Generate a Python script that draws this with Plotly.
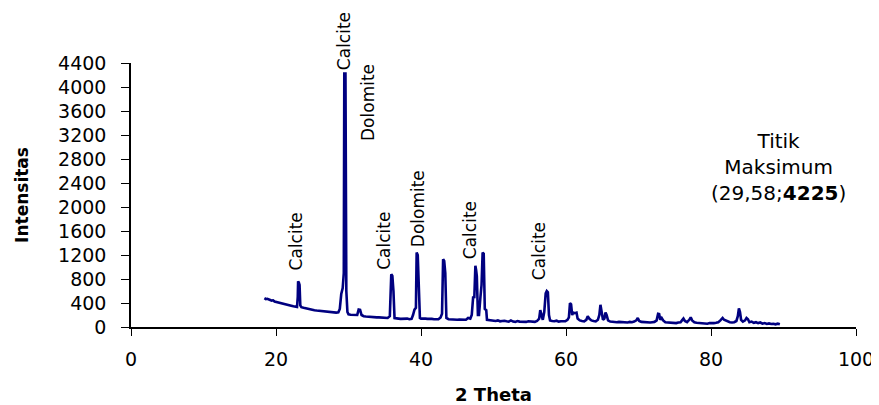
import plotly.graph_objects as go

two_theta = [
    18.4, 18.6, 18.8, 19.0, 19.2, 19.4, 19.6, 19.8, 20.0, 20.3, 20.6, 20.9, 21.2, 21.5, 21.8, 22.1, 22.4, 22.7, 22.9,
    23.0, 23.05, 23.15, 23.25, 23.35,
    23.5, 23.8, 24.1, 24.4, 24.7, 25.0, 25.3, 25.6, 25.9, 26.2, 26.5, 26.8, 27.1, 27.4, 27.7, 28.0, 28.3, 28.6,
    28.8, 29.0, 29.2, 29.35, 29.42, 29.58, 29.7, 29.85,
    30.0, 30.3, 30.6, 30.9, 31.2, 31.4, 31.6, 31.8, 32.1, 32.4, 32.7, 33.0, 33.3, 33.6, 33.9, 34.2, 34.5, 34.8,
    35.1, 35.4, 35.7, 35.9, 36.05, 36.2, 36.35,
    36.6, 36.9, 37.2, 37.5, 37.8, 38.1, 38.4, 38.7, 38.9, 39.1, 39.3, 39.4, 39.55, 39.7, 39.85,
    40.0, 40.3, 40.6, 40.9, 41.2, 41.5, 41.8, 42.1, 42.4, 42.7, 42.9, 43.05, 43.2, 43.35, 43.5,
    43.8, 44.1, 44.4, 44.7, 45.0, 45.3, 45.6, 45.9, 46.2, 46.5, 46.8, 47.0, 47.2, 47.35, 47.5, 47.6, 47.7, 47.85,
    48.0, 48.2, 48.35, 48.5, 48.65, 48.8, 49.0, 49.1,
    49.4, 49.7, 50.0, 50.3, 50.6, 50.9, 51.2, 51.5, 51.8, 52.1, 52.4, 52.7, 53.0, 53.3, 53.6, 53.9, 54.2, 54.5,
    54.8, 55.1, 55.4, 55.7, 56.0, 56.3, 56.45, 56.6, 56.8, 57.0, 57.2, 57.35, 57.5, 57.65,
    57.8, 58.1, 58.4, 58.7, 59.0, 59.3, 59.6, 59.9, 60.2, 60.4, 60.55, 60.7, 60.85, 61.0, 61.2, 61.45, 61.6,
    61.9, 62.2, 62.5, 62.8, 63.0, 63.2, 63.5, 63.8, 64.1, 64.4, 64.6, 64.75, 64.9, 65.1, 65.3, 65.45, 65.6, 65.8,
    66.1, 66.4, 66.7, 67.0, 67.3, 67.6, 67.9, 68.2, 68.5, 68.8, 69.1, 69.4, 69.7, 69.9, 70.1, 70.4, 70.7,
    71.0, 71.3, 71.6, 71.9, 72.2, 72.5, 72.7, 72.85, 73.0, 73.2, 73.4, 73.7, 74.0, 74.3, 74.6, 74.9, 75.2, 75.5,
    75.8, 76.0, 76.2, 76.4, 76.7, 77.0, 77.2, 77.4, 77.7, 78.0, 78.3, 78.6, 78.9, 79.2, 79.5, 79.8, 80.1, 80.4,
    80.7, 81.0, 81.3, 81.6, 81.8, 82.0, 82.3, 82.6, 82.9, 83.2, 83.5, 83.7, 83.85, 84.0, 84.15, 84.4, 84.7, 84.9,
    85.1, 85.3, 85.6, 85.9, 86.2, 86.5, 86.8, 87.1, 87.4, 87.7, 88.0, 88.3, 88.6, 88.9, 89.2, 89.5,
]

intensity = [
    480, 465, 470, 455, 450, 440, 445, 425, 420, 410, 395, 390, 380, 370, 365, 355, 345, 340, 335,
    500, 760, 740, 700, 360,
    330, 320, 310, 305, 295, 290, 280, 275, 270, 265, 260, 255, 250, 250, 245, 240, 240, 245,
    300, 550, 650, 900, 4225, 4225, 600, 250,
    210, 205, 200, 195, 200, 290, 285, 200, 180, 175, 170, 170, 165, 165, 160, 160, 155, 155,
    150, 150, 180, 880, 850, 600, 150,
    140, 140, 135, 140, 135, 140, 130, 135, 200, 290, 320, 1240, 1200, 800, 150,
    140, 145, 140, 135, 140, 135, 130, 135, 130, 160, 220, 1130, 1100, 900, 150,
    130, 125, 130, 125, 120, 125, 120, 115, 120, 150, 140, 200, 510, 480, 1020, 950, 850, 200,
    200, 500, 700, 1240, 1220, 300, 280, 120,
    115, 110, 105, 100, 110, 95, 100, 105, 95, 90, 110, 90, 85, 100, 90, 85, 90, 85,
    95, 90, 90, 85, 100, 140, 280, 200, 120, 250, 560, 600, 580, 200,
    110, 100, 95, 105, 90, 95, 90, 95, 120, 160, 400, 380, 200, 240, 230, 240, 140,
    110, 100, 95, 120, 180, 140, 110, 100, 95, 120, 200, 370, 250, 120, 140, 240, 200, 110,
    90, 85, 85, 80, 85, 80, 85, 80, 75, 85, 80, 90, 110, 150, 100, 85, 80,
    85, 80, 75, 80, 85, 110, 220, 215, 120, 150, 110, 80, 75, 70, 75, 70, 65, 75,
    80, 110, 140, 100, 80, 120, 160, 110, 80, 70, 65, 60, 65, 60, 55, 65, 60, 65,
    70, 80, 110, 150, 120, 110, 90, 80, 75, 80, 100, 180, 310, 250, 120, 90, 110, 150,
    130, 80, 90, 70, 80, 65, 75, 55, 65, 50, 60, 50, 55, 45, 55, 45,
]

peak_labels = ["Calcite", "Calcite", "Dolomite", "Calcite", "Dolomite", "Calcite", "Calcite"]
label_x = [22.8, 29.4, 32.7, 34.9, 39.6, 46.7, 56.2]
label_y = [915, 4250, 3060, 920, 1290, 1090, 755]

x_ticks = [0, 20, 40, 60, 80, 100]
y_ticks = [0, 400, 800, 1200, 1600, 2000, 2400, 2800, 3200, 3600, 4000, 4400]

max_x_text = "29,58"
max_y = 4225

FONT = "DejaVu Sans"

fig = go.Figure()
fig.add_trace(go.Scatter(
    x=two_theta, y=intensity, mode="lines",
    line=dict(color="#000080", width=2.6),
    showlegend=False, hoverinfo="skip",
))

for txt, lx, ly in zip(peak_labels, label_x, label_y):
    fig.add_annotation(
        x=lx, y=ly, text=txt, textangle=-90, showarrow=False,
        xanchor="center", yanchor="bottom",
        font=dict(family=FONT, size=17, color="black"),
    )

fig.add_annotation(
    x=89.3, y=2667,
    text=f"Titik<br>Maksimum<br>({max_x_text};<b>{max_y}</b>)",
    showarrow=False, xanchor="center", yanchor="middle", align="center",
    font=dict(family=FONT, size=20, color="black"),
)

# page body has an 8px margin, so the figure is 8px smaller and margins shifted
fig.update_layout(
    width=871, height=397,
    margin=dict(l=123, r=23, t=55, b=78),
    paper_bgcolor="white", plot_bgcolor="white",
    font=dict(family=FONT, color="black"),
    xaxis=dict(
        range=[0, 100], tickvals=x_ticks, ticks="outside", ticklen=7,
        tickcolor="black", tickwidth=1.2, showline=True, linecolor="black",
        linewidth=1.5, showgrid=False, zeroline=False, automargin=False,
        ticklabelstandoff=7,
        tickfont=dict(family=FONT, size=19, color="black"),
        title=dict(text="<b>2 Theta</b>", font=dict(family=FONT, size=18, color="black"), standoff=22),
    ),
    yaxis=dict(
        range=[0, 4400], tickvals=y_ticks, ticks="outside", ticklen=8,
        tickcolor="black", tickwidth=1.2, showline=True, linecolor="black",
        linewidth=1.5, showgrid=False, zeroline=False, ticklabelstandoff=11,
        automargin=False,
        tickfont=dict(family=FONT, size=19, color="black"),
        title=dict(text="<b>Intensitas</b>", font=dict(family=FONT, size=17, color="black"), standoff=25),
    ),
)

fig.write_html("out.html")
